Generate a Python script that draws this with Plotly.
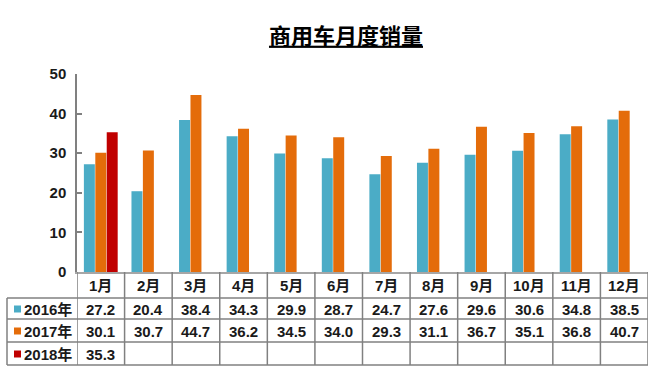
import plotly.graph_objects as go

months = ["1月", "2月", "3月", "4月", "5月", "6月", "7月", "8月", "9月", "10月", "11月", "12月"]
series_names = ["2016年", "2017年", "2018年"]
sales_2016 = [27.2, 20.4, 38.4, 34.3, 29.9, 28.7, 24.7, 27.6, 29.6, 30.6, 34.8, 38.5]
sales_2017 = [30.1, 30.7, 44.7, 36.2, 34.5, 34.0, 29.3, 31.1, 36.7, 35.1, 36.8, 40.7]
sales_2018 = [35.3, None, None, None, None, None, None, None, None, None, None, None]
y_ticks = [0, 10, 20, 30, 40, 50]

colors = ["#4BACC6", "#E46C0A", "#C00000"]
all_series = [sales_2016, sales_2017, sales_2018]

W, H = 659, 372
L, R, T, B = 77, 11, 74, 100
PW = W - L - R
PH = H - T - B
FONT = "Liberation Sans, Arial, Noto Sans CJK SC, sans-serif"
TXT = "#1a1a1a"
GRID = "#808080"


def py(p):
    # pixel y -> paper y
    return (H - B - p) / PH


def px(p):
    # pixel x -> paper x
    return (p - L) / PW


fig = go.Figure()
for name, vals, c in zip(series_names, all_series, colors):
    fig.add_trace(go.Bar(x=months, y=vals, name=name, marker=dict(color=c, line=dict(width=0)),
                         showlegend=False, hoverinfo="x+y+name"))

shapes = []
annotations = []

row_lines = [298, 319, 342, 365]
row_centers = [309, 331, 354]
header_center = 285.5

# horizontal table lines
for yl in row_lines:
    shapes.append(dict(type="line", xref="paper", yref="paper", x0=px(7), x1=1.0, y0=py(yl), y1=py(yl),
                       line=dict(color=GRID, width=1.5)))
# left border of legend column
shapes.append(dict(type="line", xref="paper", yref="paper", x0=px(7), x1=px(7), y0=py(298), y1=py(365),
                   line=dict(color=GRID, width=1.5)))
# vertical category boundaries
n = len(months)
for i in range(n + 1):
    shapes.append(dict(type="line", xref="x", yref="paper", x0=i - 0.5, x1=i - 0.5, y0=py(272), y1=py(365),
                       line=dict(color=GRID, width=1.5)))

# header month labels
for m in months:
    annotations.append(dict(x=m, xref="x", y=py(header_center), yref="paper", text="<b>%s</b>" % m,
                            xanchor="center", yanchor="middle",
                            showarrow=False, font=dict(family=FONT, size=15, color=TXT)))

# row labels with legend squares and values
for r, (name, vals, c) in enumerate(zip(series_names, all_series, colors)):
    cy = row_centers[r]
    shapes.append(dict(type="rect", xref="paper", yref="paper", x0=px(14), x1=px(21),
                       y0=py(cy + 3.5), y1=py(cy - 3.5), fillcolor=c, line=dict(width=0)))
    annotations.append(dict(x=px(21.5), xref="paper", y=py(cy), yref="paper", xanchor="left",
                            yanchor="middle", text="<b>%s</b>" % name, showarrow=False,
                            font=dict(family=FONT, size=15, color=TXT)))
    for m, v in zip(months, vals):
        if v is None:
            continue
        annotations.append(dict(x=m, xref="x", y=py(cy), yref="paper", text="<b>%.1f</b>" % v,
                                xanchor="center", yanchor="middle",
                                showarrow=False, font=dict(family=FONT, size=15, color=TXT)))

fig.update_layout(
    width=W, height=H,
    margin=dict(l=L, r=R, t=T, b=B),
    paper_bgcolor="white", plot_bgcolor="white",
    barmode="group", bargap=0.28, bargroupgap=0.04,
    title=dict(text="<b><u>商用车月度销量</u></b>", x=346 / W, xanchor="center", y=1 - 36 / H, yanchor="middle",
               font=dict(family="Noto Sans CJK SC, sans-serif", size=22, color="#000000")),
    xaxis=dict(type="category", showticklabels=False, showline=True, linecolor="#a6a6a6", linewidth=2,
               ticks="", showgrid=False, zeroline=False, range=[-0.5, n - 0.5]),
    yaxis=dict(range=[0, 50], tickvals=y_ticks, ticks="inside", ticklen=5, tickcolor=GRID, tickwidth=1.5,
               showline=True, linecolor=GRID, linewidth=1.5, showgrid=False, zeroline=False,
               tickfont=dict(family=FONT, size=15, color=TXT, weight="bold"), ticklabelstandoff=6),
    shapes=shapes,
    annotations=annotations,
)

fig.write_html("out.html", config={"displayModeBar": False},
               post_script="document.body.style.margin='0';document.body.style.overflow='hidden';")
